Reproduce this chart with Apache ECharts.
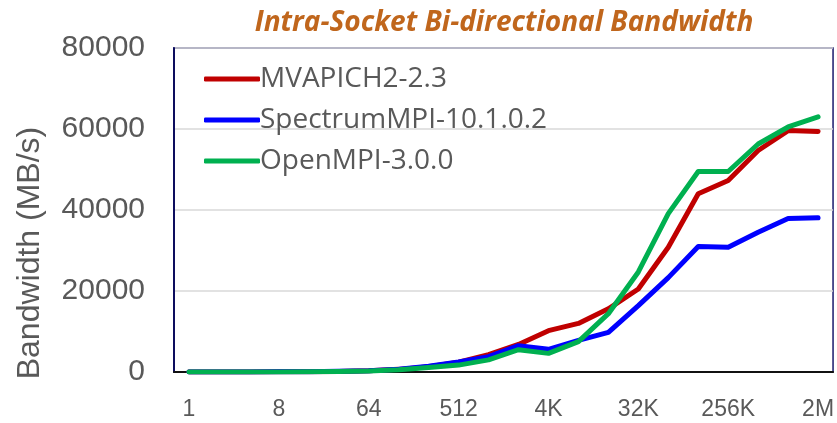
<!DOCTYPE html>
<html>
<head>
<meta charset="utf-8">
<script src="https://cdn.jsdelivr.net/npm/echarts@6/dist/echarts.min.js"></script>
<style>
  html, body { margin: 0; padding: 0; background: #fff; }
  #chart { width: 837px; height: 423px; }
</style>
</head>
<body>
<div id="chart"></div>
<script>
  // message sizes (bytes)
  const sizes = ['1', '2', '4', '8', '16', '32', '64', '128', '256', '512', '1K', '2K',
    '4K', '8K', '16K', '32K', '64K', '128K', '256K', '512K', '1M', '2M']

  // bandwidth in MB/s
  const mvapich = [5, 10, 20, 40, 80, 150, 300, 650, 1300, 2400, 4300, 6800,
    10200, 12000, 15600, 20500, 30800, 44000, 47300, 54700, 59600, 59400]
  const spectrum = [5, 10, 20, 40, 80, 160, 320, 700, 1400, 2500, 3800, 6500,
    5600, 7800, 9800, 16400, 23300, 31000, 30800, 34500, 37900, 38100]
  const openmpi = [4, 8, 16, 30, 60, 120, 250, 550, 1100, 1700, 3000, 5500,
    4600, 7500, 14400, 24700, 39100, 49500, 49500, 56300, 60500, 63000]

  const yTicks = [0, 20000, 40000, 60000, 80000]

  const chart = echarts.init(document.getElementById('chart'))

  const lineSeries = (name, data, color) => ({
    name,
    type: 'line',
    data,
    showSymbol: false,
    symbol: 'none',
    itemStyle: { color },
    lineStyle: { color, width: 5, cap: 'round', join: 'round' }
  })

  chart.setOption({
    animation: false,
    textStyle: { fontFamily: 'Liberation Sans' },
    title: {
      text: 'Intra-Socket Bi-directional Bandwidth',
      left: 499,
      textAlign: 'center',
      top: 4,
      textStyle: {
        fontFamily: 'Open Sans',
        fontStyle: 'italic',
        fontWeight: 'bold',
        fontSize: 28,
        color: '#C0661C'
      }
    },
    legend: {
      orient: 'vertical',
      left: 199,
      top: 60,
      itemWidth: 56,
      itemHeight: 5,
      itemGap: 13,
      icon: 'roundRect',
      textStyle: { fontFamily: 'Open Sans', fontSize: 28, color: '#595959', padding: [0, 0, 0, -5] },
      data: ['MVAPICH2-2.3', 'SpectrumMPI-10.1.0.2', 'OpenMPI-3.0.0']
    },
    grid: {
      left: 174,
      right: 2,
      top: 48,
      bottom: 51,
      show: true,
      borderColor: '#1a1a6e',
      borderWidth: 1.5
    },
    xAxis: {
      type: 'category',
      data: sizes,
      boundaryGap: true,
      axisLine: { lineStyle: { color: '#111', width: 2 } },
      axisTick: { show: false },
      axisLabel: {
        interval: 2,
        fontSize: 23,
        color: '#595959',
        margin: 26
      }
    },
    yAxis: {
      type: 'value',
      min: yTicks[0],
      max: yTicks[yTicks.length - 1],
      interval: 20000,
      name: 'Bandwidth (MB/s)',
      nameLocation: 'middle',
      nameGap: 128,
      nameTextStyle: { fontSize: 32, color: '#595959', padding: [0, 0, 0, -86] },
      axisLine: { show: true, lineStyle: { color: '#0d0d5e', width: 2 } },
      axisTick: { show: false },
      axisLabel: {
        fontSize: 30,
        color: '#595959',
        margin: 29,
        formatter: (v) => String(v)
      },
      splitLine: { lineStyle: { color: '#d9d9d9', width: 1.5 } }
    },
    series: [
      lineSeries('MVAPICH2-2.3', mvapich, '#C00000'),
      lineSeries('SpectrumMPI-10.1.0.2', spectrum, '#0000FF'),
      lineSeries('OpenMPI-3.0.0', openmpi, '#00B050')
    ]
  })

  window.addEventListener('resize', () => chart.resize())
</script>
</body>
</html>
